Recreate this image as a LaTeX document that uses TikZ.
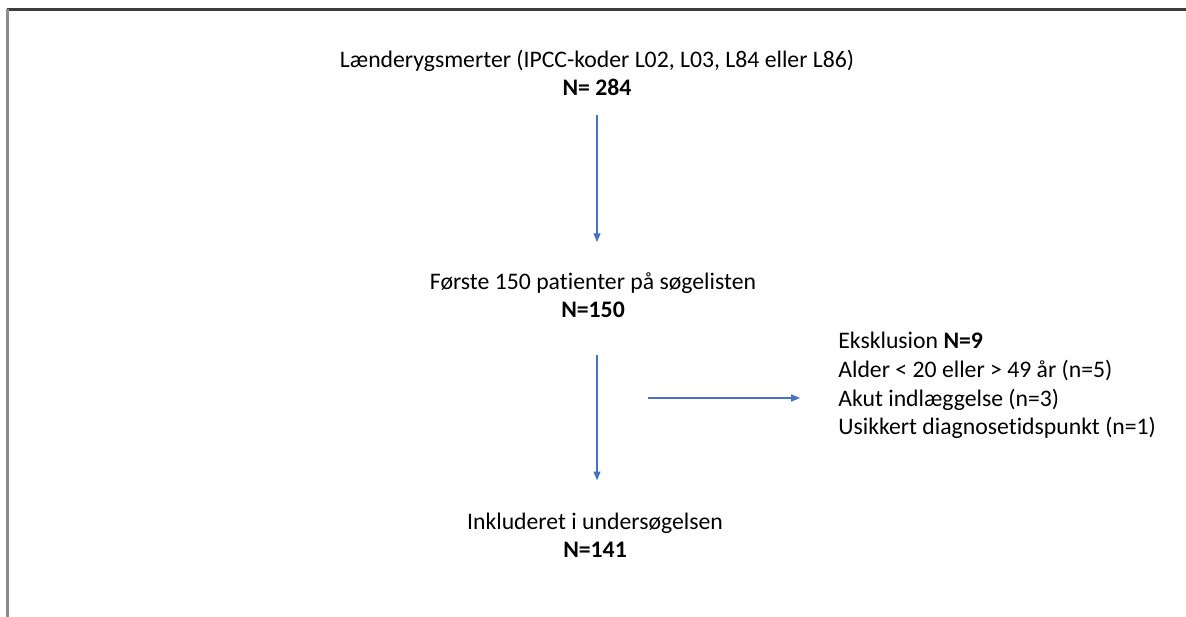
\documentclass[tikz,border=0pt]{standalone}
\usepackage{fontspec}
\setmainfont{Carlito}[Ligatures=NoCommon]
\usetikzlibrary{arrows.meta,positioning}
\definecolor{flowblue}{RGB}{68,114,196}
\definecolor{framegray}{RGB}{60,60,60}
\definecolor{sidegray}{RGB}{140,140,140}

\begin{document}
\begin{tikzpicture}[
        x=0.02cm, y=-0.02cm,
        stage/.style={align=center, inner sep=0pt, font=\fontsize{13.5}{16}\selectfont},
        note/.style={align=left, inner sep=0pt, font=\fontsize{13.5}{16.3}\selectfont},
        arrow/.style={-{Triangle[length=5pt,width=4pt]}, flowblue, line width=0.6pt}
    ]
        \useasboundingbox (0,0) rectangle (1186,617);
        % Frame
        \draw[framegray, line width=1.2pt] (7,9.5) -- (1186,9.5);
        \draw[sidegray, line width=1.2pt] (7.5,9) -- (7.5,617);

        % Nodes
        \node[stage] (pain) at (597,73) {Lænderygsmerter (IPCC-koder L02, L03, L84 eller L86)\\\textbf{N= 284}};
        \node[stage] (first) at (593,295) {Første 150 patienter på søgelisten\\\textbf{N=150}};
        \node[stage] (incl) at (595,535) {Inkluderet i undersøgelsen\\\textbf{N=141}};
        \node[note, anchor=west] (excl) at (838,385.5) {Eksklusion \textbf{N=9}\\
            Alder < 20 eller > 49 år (n=5)\\
            Akut indlæggelse (n=3)\\
            Usikkert diagnosetidspunkt (n=1)};
        \coordinate (split) at (648,398);

        % Arrows
        \draw[arrow, shorten <=0.38cm, shorten >=0.6cm] (pain.south) -- (pain.south |- first.north);
        \draw[arrow, shorten <=0.74cm, shorten >=0.64cm] (pain.south |- first.south) -- (pain.south |- incl.north);
        \draw[arrow, shorten >=0.76cm] (split) -- (split -| excl.west);
    \end{tikzpicture}
\end{document}
